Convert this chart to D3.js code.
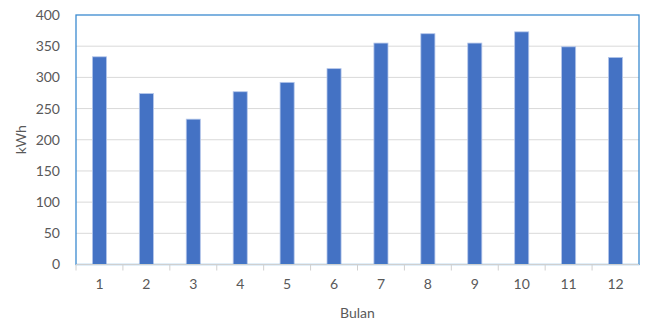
<!DOCTYPE html>
<html>
<head>
<meta charset="utf-8">
<script src="https://cdn.jsdelivr.net/npm/d3@7"></script>
<style>
  html, body { margin: 0; padding: 0; background: #fff; }
  svg { display: block; }
  text { font-family: Lato, "Open Sans", sans-serif; fill: #595959; }
</style>
</head>
<body>
<svg id="chart" width="645" height="321"></svg>
<script>
// Monthly energy use (kWh)
const months = ["1", "2", "3", "4", "5", "6", "7", "8", "9", "10", "11", "12"];
const kwh = [333, 274, 233, 277, 292, 314, 355, 370, 355, 373, 349, 332];
const yTicks = [0, 50, 100, 150, 200, 250, 300, 350, 400];

const svg = d3.select("#chart");
const m = { left: 76, top: 15, right: 639, bottom: 264.5 };

const x = d3.scaleBand()
  .domain(months)
  .range([m.left, m.right])
  .paddingInner(0.7)
  .paddingOuter(0.35);

const y = d3.scaleLinear()
  .domain([0, 400])
  .range([m.bottom, m.top]);

// horizontal gridlines
svg.append("g")
  .selectAll("line")
  .data(yTicks.filter(d => d > 0 && d < 400))
  .join("line")
  .attr("x1", m.left).attr("x2", m.right)
  .attr("y1", d => y(d)).attr("y2", d => y(d))
  .attr("stroke", "#d9d9d9").attr("stroke-width", 1);

// bars
svg.append("g")
  .selectAll("rect")
  .data(months.map((mo, i) => ({ mo, v: kwh[i] })))
  .join("rect")
  .attr("x", d => x(d.mo))
  .attr("y", d => y(d.v))
  .attr("width", x.bandwidth())
  .attr("height", d => y(0) - y(d.v))
  .attr("fill", "#4472c4")
  .attr("stroke", "#b4c6ea")
  .attr("stroke-width", 0.8);

// plot area frame
svg.append("rect")
  .attr("x", m.left).attr("y", m.top)
  .attr("width", m.right - m.left).attr("height", m.bottom - m.top)
  .attr("fill", "none")
  .attr("stroke", "#3b8ad0").attr("stroke-width", 1.3);

// category axis line and boundary ticks
const boundaries = d3.range(months.length + 1).map(i => m.left + i * x.step());
svg.append("line")
  .attr("x1", m.left).attr("x2", m.right)
  .attr("y1", m.bottom).attr("y2", m.bottom)
  .attr("stroke", "#d0d0d0").attr("stroke-width", 1.2);
svg.append("g")
  .selectAll("line")
  .data(boundaries.slice(0, months.length))
  .join("line")
  .attr("x1", d => d).attr("x2", d => d)
  .attr("y1", m.bottom).attr("y2", m.bottom + 6)
  .attr("stroke", "#d0d0d0").attr("stroke-width", 1);

// x axis labels
const xAxis = svg.append("g")
  .attr("transform", `translate(0,${m.bottom})`)
  .call(d3.axisBottom(x).tickSize(0).tickPadding(15));
xAxis.select(".domain").remove();
xAxis.selectAll("text")
  .style("font-family", "Lato, sans-serif")
  .style("font-size", "14px")
  .attr("fill", "#595959");

// y axis labels
const yAxis = svg.append("g")
  .attr("transform", `translate(${m.left},0)`)
  .call(d3.axisLeft(y).tickValues(yTicks).tickSize(0).tickPadding(16));
yAxis.select(".domain").remove();
yAxis.selectAll("text")
  .style("font-family", "Lato, sans-serif")
  .style("font-size", "14px")
  .attr("fill", "#595959");

// axis titles
svg.append("text")
  .attr("x", (m.left + m.right) / 2).attr("y", 318)
  .attr("text-anchor", "middle")
  .style("font-size", "14px")
  .text("Bulan");

svg.append("text")
  .attr("transform", `translate(26,${(m.top + m.bottom) / 2}) rotate(-90)`)
  .attr("text-anchor", "middle")
  .style("font-size", "14px")
  .text("kWh");
</script>
</body>
</html>
